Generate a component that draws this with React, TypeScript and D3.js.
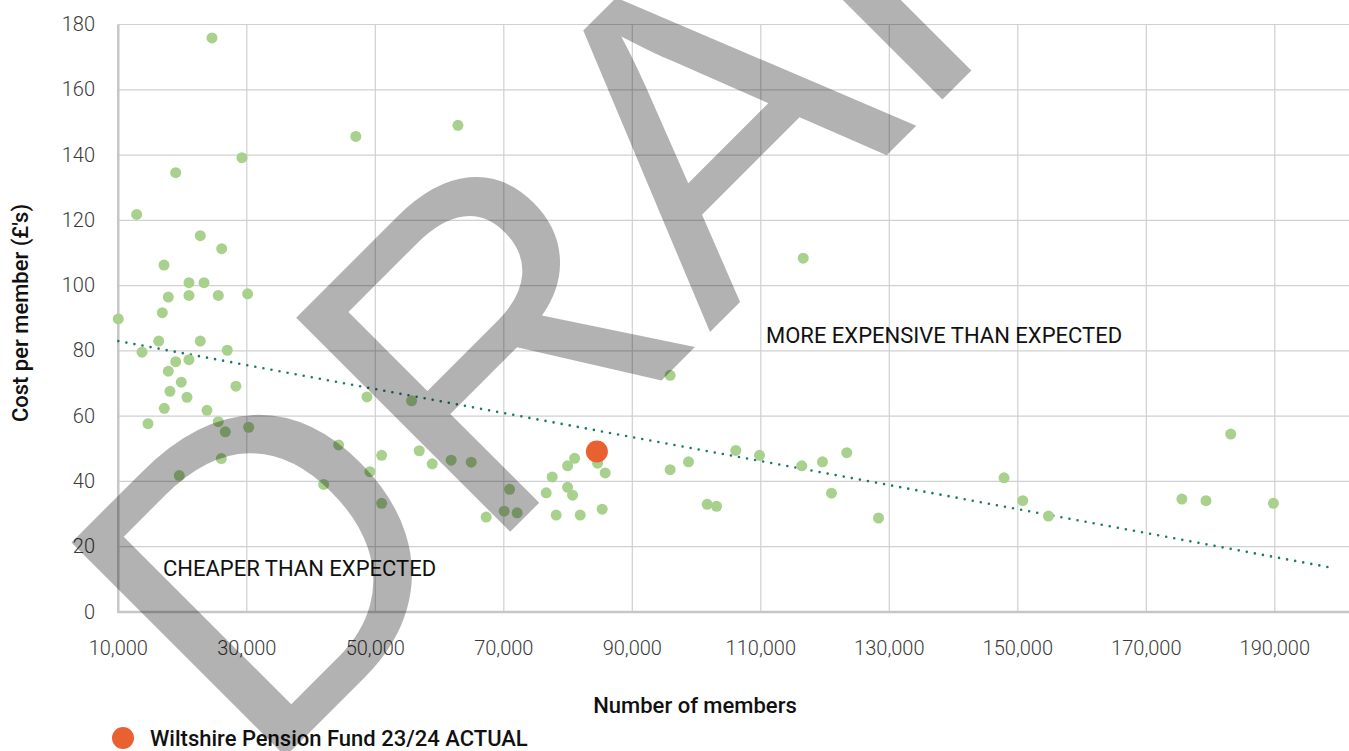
import React from "react";
import * as d3 from "d3";

// peer funds: number of members vs cost per member (£)
const peerMembers = [
  24580, 29250, 18930, 12860, 22760, 26090, 17110, 21000, 23340, 17780, 21000, 25560,
  30130, 16850, 10000, 13690, 16290, 22760, 26960, 18930, 21000, 17780, 19800, 28310,
  18040, 20690, 17160, 23800, 14620, 25560, 26650, 30290, 26030, 19490,
  46960, 62860, 48700, 55650, 44290, 50990, 56840, 58860, 49160, 41960, 50990, 61810, 64930,
  95890, 84600, 81020, 79930, 85780, 77530, 79930, 80700, 76600, 70900, 70060, 72080,
  67260, 78150, 81890, 85310, 95890, 98750, 106110, 101650, 103110, 109800, 116380,
  119600, 123380, 121000, 128320, 116600, 147860, 150770, 154770, 175540, 179290,
  183140, 189780,
];
const peerCost = [
  175.9, 139.2, 134.6, 121.8, 115.3, 111.3, 106.3, 100.9, 100.9, 96.5, 97.0, 97.0,
  97.5, 91.7, 89.8, 79.6, 83.0, 83.0, 80.2, 76.7, 77.3, 73.8, 70.4, 69.2,
  67.6, 65.8, 62.4, 61.8, 57.7, 58.3, 55.2, 56.6, 47.0, 41.8,
  145.7, 149.1, 65.9, 64.7, 51.2, 48.0, 49.4, 45.4, 43.0, 39.1, 33.3, 46.5, 45.9,
  72.5, 45.6, 47.1, 44.8, 42.6, 41.4, 38.2, 35.8, 36.5, 37.6, 30.9, 30.4,
  29.1, 29.7, 29.7, 31.5, 43.6, 46.0, 49.5, 33.0, 32.4, 48.0, 44.8,
  46.0, 48.8, 36.4, 28.8, 108.4, 41.1, 34.1, 29.4, 34.6, 34.1,
  54.5, 33.3,
];

const wiltshireMembers = [84490];
const wiltshireCost = [49.2];

// linear trendline end points
const trendMembers = [10000, 199300];
const trendCost = [83.0, 13.4];

const xTicks = [10000, 30000, 50000, 70000, 90000, 110000, 130000, 150000, 170000, 190000];
const xGrid = [...xTicks, 210000];
const yTicks = [0, 20, 40, 60, 80, 100, 120, 140, 160, 180];

const W = 1349,
  H = 751;

export default function App() {
  const x = d3.scaleLinear().domain([10000, 210000]).range([118.3, 1403.3]);
  const y = d3.scaleLinear().domain([0, 180]).range([612, 24.5]);
  const fmt = d3.format(",");

  const trend = d3
    .line<number>()
    .x((d) => x(d))
    .y((_, i) => y(trendCost[i]))(trendMembers);

  const tickFont = { fontFamily: "Roboto", fontWeight: 300, fontSize: 20, fill: "#3a3a3a" };
  const labelFont = { fontFamily: "Roboto", fontSize: 22, fill: "#111" };

  return (
    <svg width={W} height={H} style={{ position: "absolute", left: 0, top: 0, background: "#fff" }}>
      {/* grid */}
      {yTicks.map((t) => (
        <line key={"h" + t} x1={x(10000)} x2={W} y1={y(t)} y2={y(t)} stroke="#d0d0d0" strokeWidth={1.2} />
      ))}
      {xGrid.map((t) => (
        <line key={"v" + t} x1={x(t)} x2={x(t)} y1={y(180)} y2={y(0)} stroke="#d0d0d0" strokeWidth={1.2} />
      ))}
      <line x1={x(10000)} x2={x(10000)} y1={y(180)} y2={y(0) + 1} stroke="#c6c6c6" strokeWidth={2.5} />
      <line x1={x(10000)} x2={W} y1={y(0)} y2={y(0)} stroke="#c6c6c6" strokeWidth={2.5} />

      {/* tick labels */}
      {yTicks.map((t) => (
        <text key={"yl" + t} x={95} y={y(t) + 6.5} textAnchor="end" {...tickFont}>
          {t}
        </text>
      ))}
      {xTicks.map((t) => (
        <text key={"xl" + t} x={x(t)} y={655} textAnchor="middle" {...tickFont}>
          {fmt(t)}
        </text>
      ))}

      {/* axis titles */}
      <text x={695} y={713} textAnchor="middle" {...labelFont} fontWeight={500}>
        Number of members
      </text>
      <text
        transform={`translate(28,${313}) rotate(-90)`}
        textAnchor="middle"
        {...labelFont}
        fontWeight={500}
      >
        Cost per member (£'s)
      </text>

      {/* trendline */}
      <path
        d={trend ?? ""}
        fill="none"
        stroke="#1d7a6a"
        strokeWidth={2.6}
        strokeLinecap="round"
        strokeDasharray="0 8.2"
      />

      {/* peers */}
      {peerMembers.map((m, i) => (
        <circle key={"p" + i} cx={x(m)} cy={y(peerCost[i])} r={5.5} fill="#a9d18e" />
      ))}
      {wiltshireMembers.map((m, i) => (
        <circle key={"w" + i} cx={x(m)} cy={y(wiltshireCost[i])} r={11} fill="#ea6131" />
      ))}

      {/* annotations */}
      <text x={766} y={343} {...labelFont}>
        MORE EXPENSIVE THAN EXPECTED
      </text>
      <text x={163} y={576} {...labelFont}>
        CHEAPER THAN EXPECTED
      </text>

      {/* legend */}
      <circle cx={123} cy={738} r={11} fill="#ea6131" />
      <text x={150} y={746} {...labelFont} fontWeight={500}>
        Wiltshire Pension Fund 23/24 ACTUAL
      </text>

      {/* watermark */}
      <text
        transform="translate(260,782) rotate(-45)"
        fontFamily="Liberation Sans"
        fontSize={440}
        fill="#000"
        fillOpacity={0.3}
        style={{ pointerEvents: "none" }}
      >
        DRAFT
      </text>
    </svg>
  );
}
